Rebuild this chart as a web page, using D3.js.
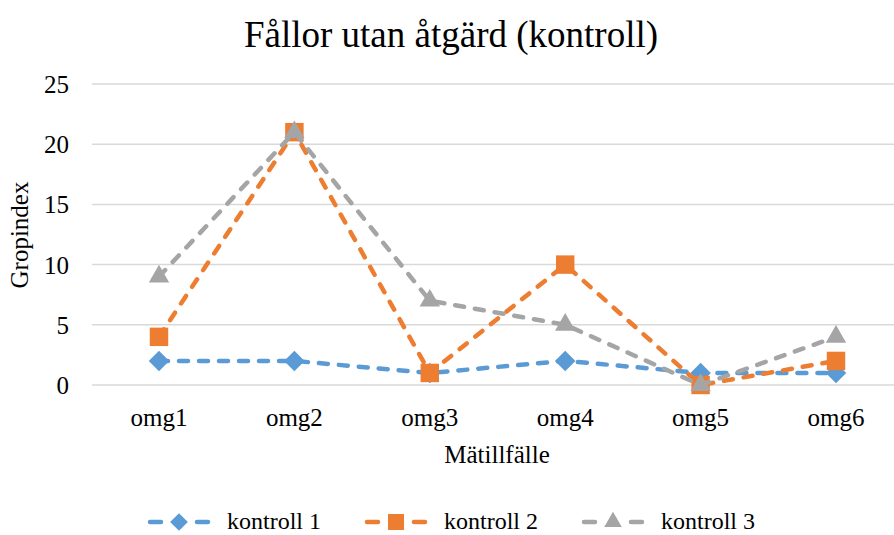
<!DOCTYPE html>
<html lang="sv">
<head>
    <meta charset="UTF-8">
    <title>Fållor utan åtgärd (kontroll)</title>
    <script src="https://cdn.jsdelivr.net/npm/d3@7"></script>
    <style>
        body { margin: 0; background: #fff; }
        svg { display: block; }
        svg text { font-family: "Liberation Serif", "Times New Roman", serif; fill: #000; }
    </style>
</head>
<body>
<svg width="894" height="535"></svg>
<script>
    // chart data
    const categories = ["omg1", "omg2", "omg3", "omg4", "omg5", "omg6"];
    const kontroll1 = [2, 2, 1, 2, 1, 1];
    const kontroll2 = [4, 21, 1, 10, 0, 2];
    const kontroll3 = [9, 21, 7, 5, 0, 4];
    const seriesNames = ["kontroll 1", "kontroll 2", "kontroll 3"];
    const yTicks = [0, 5, 10, 15, 20, 25];

    const colors = ["#5B9BD5", "#ED7D31", "#A5A5A5"];
    const series = [kontroll1, kontroll2, kontroll3];

    // marker shapes: diamond = rotated square
    const markers = [
        {type: d3.symbolSquare, size: 210, rot: 45},
        {type: d3.symbolSquare, size: 340, rot: 0},
        {type: d3.symbolTriangle, size: 180, rot: 0}
    ];

    const svg = d3.select("svg");

    // scales
    const x = d3.scalePoint().domain(categories).range([159, 836]);
    const y = d3.scaleLinear().domain([0, 25]).range([385, 84]);

    // gridlines
    svg.append("g").selectAll("line")
        .data(yTicks)
        .enter().append("line")
        .attr("x1", 92).attr("x2", 904)
        .attr("y1", d => y(d)).attr("y2", d => y(d))
        .attr("stroke", "#d9d9d9").attr("stroke-width", 1.5);

    // y labels
    svg.append("g").selectAll("text")
        .data(yTicks)
        .enter().append("text")
        .attr("x", 69).attr("y", d => y(d) + 9)
        .attr("text-anchor", "end")
        .attr("font-size", 25)
        .text(d => d);

    // x labels
    svg.append("g").selectAll("text")
        .data(categories)
        .enter().append("text")
        .attr("x", d => x(d)).attr("y", 426)
        .attr("text-anchor", "middle")
        .attr("font-size", 25)
        .text(d => d);

    // titles
    svg.append("text").attr("x", 451).attr("y", 47)
        .attr("text-anchor", "middle").attr("font-size", 37)
        .text("Fållor utan åtgärd (kontroll)");
    svg.append("text").attr("x", 497).attr("y", 463)
        .attr("text-anchor", "middle").attr("font-size", 25)
        .text("Mätillfälle");
    svg.append("text")
        .attr("transform", "translate(28,235) rotate(-90)")
        .attr("text-anchor", "middle").attr("font-size", 25)
        .text("Gropindex");

    // lines + markers
    const line = d3.line()
        .x((d, i) => x(categories[i]))
        .y(d => y(d));

    series.forEach(function (vals, s) {
        const g = svg.append("g");
        g.append("path")
            .attr("d", line(vals))
            .attr("fill", "none")
            .attr("stroke", colors[s])
            .attr("stroke-width", 4.5)
            .attr("stroke-dasharray", "9,11")
            .attr("stroke-linecap", "round")
            .attr("stroke-linejoin", "round");
        g.selectAll("path.pt")
            .data(vals)
            .enter().append("path")
            .attr("class", "pt")
            .attr("transform", (d, i) => "translate(" + x(categories[i]) + "," + y(d) + ") rotate(" + markers[s].rot + ")")
            .attr("d", d3.symbol().type(markers[s].type).size(markers[s].size))
            .attr("fill", colors[s]);
    });

    // legend
    const legendX = [148, 365, 582];
    const leg = svg.append("g").selectAll("g")
        .data(seriesNames)
        .enter().append("g")
        .attr("transform", (d, i) => "translate(" + legendX[i] + ",522)");
    leg.append("line")
        .attr("x1", 2).attr("x2", 60).attr("y1", 0).attr("y2", 0)
        .attr("stroke", (d, i) => colors[i])
        .attr("stroke-width", 4.5)
        .attr("stroke-dasharray", "11,36")
        .attr("stroke-linecap", "round");
    leg.append("path")
        .attr("transform", (d, i) => "translate(31,0) rotate(" + markers[i].rot + ")")
        .attr("d", (d, i) => d3.symbol().type(markers[i].type).size(markers[i].size * 0.75)())
        .attr("fill", (d, i) => colors[i]);
    leg.append("text")
        .attr("x", 79).attr("y", 7)
        .attr("font-size", 24)
        .text(d => d);
</script>
</body>
</html>
